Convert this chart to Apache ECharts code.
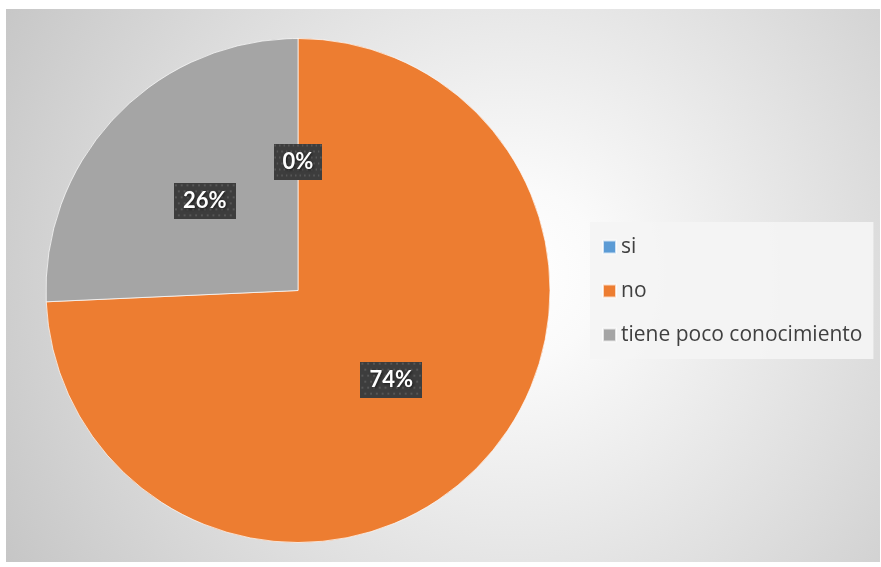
<!DOCTYPE html>
<html>
<head>
<meta charset="utf-8">
<script src="https://cdn.jsdelivr.net/npm/echarts@6/dist/echarts.min.js"></script>
<style>
  html, body { margin: 0; padding: 0; background: #ffffff; width: 881px; height: 567px; overflow: hidden; }
  #frame {
    position: absolute; left: 6px; top: 9px; width: 874px; height: 553px;
    background: radial-gradient(circle farthest-corner at 58% 48%, #ffffff 0%, #fafafa 15%, #c6c6c6 100%);
  }
  #chart { width: 874px; height: 553px; }
</style>
</head>
<body>
<div id="frame"><div id="chart"></div></div>
<script>
// Survey answers and how many respondents gave each one
const categories = ['si', 'no', 'tiene poco conocimiento'];
const counts = [0, 26, 9];

// Office-style palette for the three slices
const palette = ['#5B9BD5', '#ED7D31', '#A5A5A5'];

// Dark dotted texture used behind the percentage labels
function makeLabelTexture(w, h) {
  const c = document.createElement('canvas');
  c.width = w; c.height = h;
  const g = c.getContext('2d');
  g.fillStyle = '#3d3d3d';
  g.fillRect(0, 0, w, h);
  g.fillStyle = 'rgba(110,110,110,0.55)';
  for (let y = 1, row = 0; y < h; y += 6, row++) {
    for (let x = (row % 2 ? 4 : 1); x < w; x += 6) {
      g.fillRect(x, y, 2, 2);
    }
  }
  return c;
}
const texture = makeLabelTexture(64, 36);

const chart = echarts.init(document.getElementById('chart'), null, { renderer: 'canvas' });

chart.setOption({
  backgroundColor: 'transparent',
  animation: false,
  color: palette,
  legend: {
    orient: 'vertical',
    left: 584,
    top: 213,
    icon: 'rect',
    itemWidth: 13,
    itemHeight: 13,
    itemGap: 20,
    padding: [13, 11, 12, 12],
    backgroundColor: 'rgba(244,244,244,0.92)',
    textStyle: {
      fontFamily: '"Open Sans", Lato, sans-serif',
      fontSize: 21,
      lineHeight: 24,
      color: '#404040'
    },
    data: categories
  },
  series: [{
    type: 'pie',
    center: [292, 281.5],
    radius: 252,
    startAngle: 90,
    clockwise: true,
    percentPrecision: 0,
    avoidLabelOverlap: false,
    itemStyle: { borderColor: 'rgba(255,255,255,0.7)', borderWidth: 1 },
    emphasis: { disabled: true },
    labelLine: { show: false },
    label: {
      show: true,
      position: 'inside',
      formatter: '{d}%',
      fontFamily: 'Lato, "Open Sans", sans-serif',
      fontWeight: 'bold',
      fontSize: 22,
      lineHeight: 24,
      color: '#ffffff',
      textShadowColor: 'rgba(0,0,0,0.6)',
      textShadowBlur: 3,
      textShadowOffsetX: 1,
      textShadowOffsetY: 1,
      backgroundColor: { image: texture },
      padding: [6, 9, 6, 9],
      shadowColor: 'rgba(0,0,0,0.6)',
      shadowBlur: 8,
      shadowOffsetX: 4,
      shadowOffsetY: 4
    },
    data: categories.map((name, i) => ({ name, value: counts[i] }))
  }]
});
</script>
</body>
</html>
